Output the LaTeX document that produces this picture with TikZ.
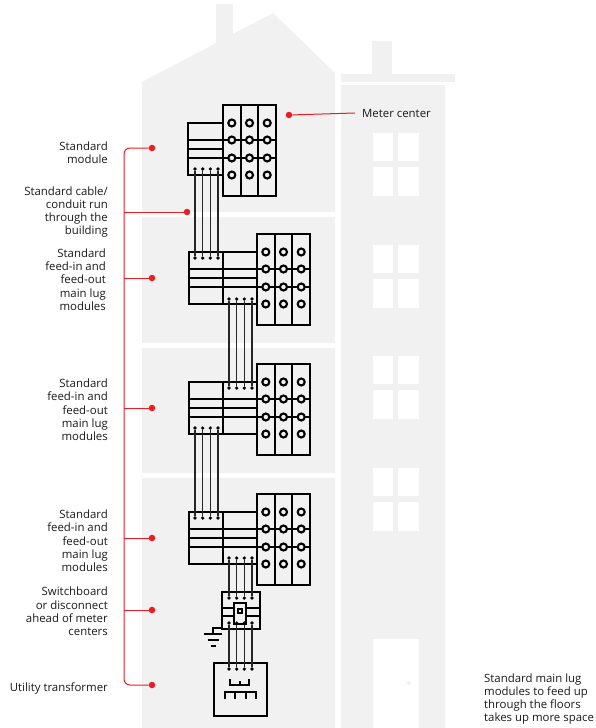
\documentclass[tikz,border=0pt]{standalone}
\usepackage{fontspec}
\setmainfont{Open Sans}
\usepackage{tikz}

\definecolor{wall}{RGB}{240,241,240}
\definecolor{callred}{RGB}{236,28,36}
\definecolor{ink}{RGB}{25,25,25}

\begin{document}
\begin{tikzpicture}[%
        x=1pt, y=-1pt,
        every node/.style={font=\fontsize{11.4}{13.3}\selectfont, text=ink, inner sep=0pt},
        tag/.style={align=right, anchor=east},
        box/.style={draw=black, line width=2.3pt},
        wire/.style={draw=black!85, line width=1.4pt},
        pin/.style={circle, fill=black, minimum size=3.6pt},
        lug/.style={draw=black, line width=2.1pt, fill=wall},
        call/.style={draw=callred, line width=1pt},
        spot/.style={circle, fill=callred, minimum size=6.5pt}
        ]
        \useasboundingbox (0,0) rectangle (595,728);

        % house on the left, with floors
        \fill[wall] (142,728) -- (142,82) -- (273,13) -- (335,73) -- (335,728) -- cycle;
        \fill[wall] (216,4) rectangle (233,60);
        \foreach \f in {212,343,473}
            \fill[white] (142,\f) rectangle (335,\f+4.5);

        % narrow building on the right
        \fill[wall] (372,41) rectangle (392,76);
        \fill[wall] (341,74) rectangle (455,82);
        \fill[wall] (341,85) rectangle (445,728);
        \foreach \d in {0,112,223,335} {
            \fill[white] (373,133+\d) rectangle (393,161+\d);
            \fill[white] (398,133+\d) rectangle (419,161+\d);
            \fill[white] (373,167+\d) rectangle (393,196+\d);
            \fill[white] (398,167+\d) rectangle (419,196+\d);
        }
        \fill[white] (373,639) rectangle (419,728);
        \fill[wall] (409,683) circle (2);

        % top meter center
        \draw[box] (223,105) rectangle (276,196);
        \draw[box] (240.7,105) -- (240.7,196) (258.3,105) -- (258.3,196);
        \draw[box] (188,123) rectangle (223,175);
        \draw[box] (188,140) -- (276,140) (188,158) -- (276,158);
        \draw[box] (188,149) -- (223,149);
        \foreach \x in {231.8,249.5,267.2}
            \foreach \r in {123,140,158,175}
                \draw[lug] (\x,\r) circle (3.5);

        % feed-in / feed-out main lug modules
        \foreach \t in {234,364,494} {
            \draw[box] (257,\t) rectangle (310,\t+91);
            \draw[box] (274.7,\t) -- (274.7,\t+91) (292.3,\t) -- (292.3,\t+91);
            \draw[box] (189,\t+18) rectangle (257,\t+70);
            \draw[box] (223,\t+18) -- (223,\t+70);
            \draw[box] (189,\t+35) -- (310,\t+35) (189,\t+53) -- (310,\t+53);
            \draw[box] (189,\t+44) -- (257,\t+44);
            \foreach \x in {265.8,283.5,301.2}
                \foreach \r in {18,35,53,70}
                    \draw[lug] (\x,\t+\r) circle (3.5);
        }

        % switchboard with breaker and ground
        \draw[box] (222,592) rectangle (260,629);
        \draw[box] (222,608) -- (260,608) (222,616) -- (260,616);
        \filldraw[box, fill=wall] (234,603) rectangle (246,624);
        \draw[line width=1.4pt] (238,609) rectangle (242,613);
        \draw[box] (222,628) -- (213,628) -- (213,634);
        \draw[box] (204,634) -- (222,634);
        \draw[box] (207.5,640) -- (218.5,640);
        \draw[box] (210.5,646) -- (215.5,646);

        % utility transformer
        \draw[box] (214,663) rectangle (267,716);
        \draw[line width=2pt] (230,679) -- (230,685) -- (249,685) -- (249,679);
        \draw[line width=2pt] (239.5,681) -- (239.5,685);
        \draw[line width=2pt] (225,699) -- (225,692) -- (256,692) -- (256,699);
        \draw[line width=2pt] (235.3,692) -- (235.3,699) (245.7,692) -- (245.7,699);

        % terminals
        \foreach \k/\x in {1/195,2/202.7,3/210.3,4/218} {
            \node[pin] (m1o\k) at (\x,169) {};
            \node[pin] (m2i\k) at (\x,258) {};
            \node[pin] (m3o\k) at (\x,428) {};
            \node[pin] (m4i\k) at (\x,518) {};
        }
        \foreach \k/\x in {1/229,2/236.7,3/244.3,4/252} {
            \node[pin] (m2o\k) at (\x,299) {};
            \node[pin] (m3i\k) at (\x,388) {};
            \node[pin] (m4o\k) at (\x,558) {};
            \node[pin] (swi\k) at (\x,598) {};
            \node[pin] (swo\k) at (\x,623) {};
            \node[pin] (tri\k) at (\x,669) {};
        }

        % cables between the floors
        \foreach \k in {1,...,4} {
            \draw[wire] (m1o\k) -- (m2i\k);
            \draw[wire] (m2o\k) -- (m3i\k);
            \draw[wire] (m3o\k) -- (m4i\k);
            \draw[wire] (m4o\k) -- (swi\k);
            \draw[wire] (swo\k) -- (tri\k);
        }

        % callouts
        \node[spot] (sMeter) at (289,115) {};
        \node[anchor=west] (tMeter) at (362,113) {Meter center};
        \draw[call] (sMeter) -- (tMeter.west -| 355,0);

        \node[spot] (sModule) at (152,148) {};
        \node[spot] (sCable) at (187,212) {};
        \node[spot] (sFeedA) at (152,278) {};
        \node[spot] (sFeedB) at (152,408) {};
        \node[spot] (sFeedC) at (152,538) {};
        \node[spot] (sSwitch) at (152,610) {};
        \node[spot] (sTrans) at (152,685) {};
        \draw[call, rounded corners=6pt] (sModule) -- (124,148) -- (124,685) -- (sTrans);
        \foreach \s in {sCable,sFeedA,sFeedB,sFeedC,sSwitch}
            \draw[call] (124,0 |- \s) -- (\s);

        \node[tag] (tModule) at (108,153) {Standard\\module};
        \node[tag] (tCable) at (108,212) {Standard cable/\\conduit run\\through the\\building};
        \node[tag] (tFeedA) at (106,279.5) {Standard\\feed-in and\\feed-out\\main lug\\modules};
        \node[tag] (tFeedB) at (108,410) {Standard\\feed-in and\\feed-out\\main lug\\modules};
        \node[tag] (tFeedC) at (108,541) {Standard\\feed-in and\\feed-out\\main lug\\modules};
        \node[tag] (tSwitch) at (108,611.5) {Switchboard\\or disconnect\\ahead of meter\\centers};
        \node[tag] (tTrans) at (108,688) {Utility transformer};
        \node[align=left, anchor=west] (tNote) at (484,699) {Standard main lug\\modules to feed up\\through the floors\\takes up more space};
    \end{tikzpicture}
\end{document}
